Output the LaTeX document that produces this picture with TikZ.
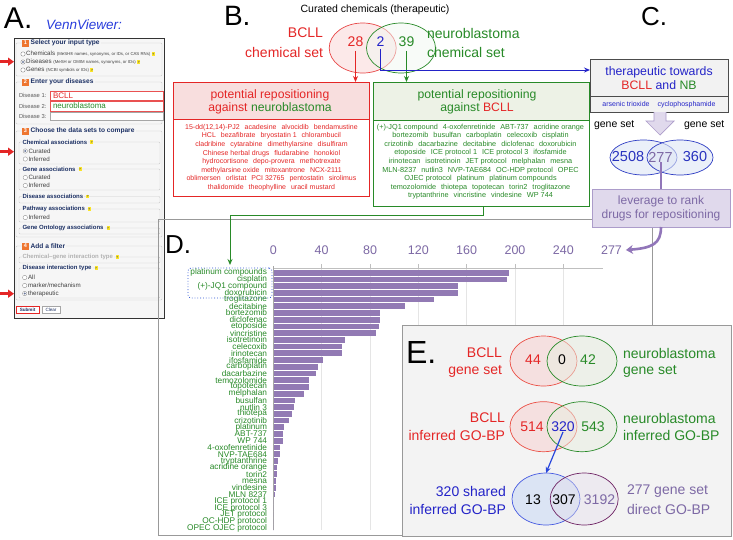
\documentclass[tikz,border=0pt]{standalone}
\usepackage{fontspec}
\setmainfont{Liberation Sans}
\usetikzlibrary{arrows.meta,calc,shapes.geometric}
\definecolor{cred}{RGB}{228,38,38}
\definecolor{cgreen}{RGB}{40,138,40}
\definecolor{cblue}{RGB}{35,35,200}
\definecolor{barc}{RGB}{146,122,180}
\definecolor{ptext}{RGB}{125,105,165}
\definecolor{navy}{RGB}{28,48,100}
\definecolor{orng}{RGB}{238,118,48}
\definecolor{formbg}{RGB}{246,246,246}
\definecolor{lav}{RGB}{224,217,236}
\definecolor{lavb}{RGB}{172,156,202}
\definecolor{hyel}{RGB}{250,228,40}
\definecolor{redhd}{RGB}{248,222,222}
\definecolor{grnhd}{RGB}{237,242,230}
\definecolor{cboxbg}{RGB}{242,242,242}
\definecolor{ebg}{RGB}{243,243,243}
\definecolor{arrp}{RGB}{145,118,185}
\definecolor{earr}{RGB}{40,70,220}
\definecolor{vvblue}{RGB}{40,60,220}
\definecolor{cvb}{RGB}{45,60,195}
\definecolor{cvf}{RGB}{222,230,246}
\definecolor{cnum}{RGB}{40,50,190}
\definecolor{evr}{RGB}{235,80,70}
\definecolor{evrf}{RGB}{247,212,212}
\definecolor{evgf}{RGB}{232,238,225}
\definecolor{evb}{RGB}{70,90,225}
\definecolor{evbf}{RGB}{210,222,245}
\definecolor{evp}{RGB}{110,35,100}
\definecolor{evpf}{RGB}{228,222,236}
\definecolor{dotb}{RGB}{40,80,210}
\newcommand{\fs}[1]{\fontsize{#1}{#1}\selectfont}
\newcommand{\fsb}[2]{\fontsize{#1}{#2}\selectfont}
\newcommand{\gp}{\hspace{5pt}}
\begin{document}
\begin{tikzpicture}[x=1pt,y=-1pt,
  every node/.style={inner sep=0pt,outer sep=0pt},
  biglet/.style={anchor=base west},
  fhead/.style={anchor=west,font=\fs{6.6}\bfseries,text=navy,fill=formbg,inner xsep=1.2pt},
  fsub/.style={anchor=west,font=\fs{6}\bfseries,text=navy,fill=formbg,inner xsep=1pt},
  fitem/.style={anchor=west,font=\fs{6.2},text=black!75},
  flab/.style={anchor=west,font=\fs{5.8},text=black!65},
  numbox/.style={fill=orng,text=white,font=\fs{5.5}\bfseries,minimum width=7pt,minimum height=7pt},
  helpic/.style={anchor=west,fill=hyel,text=black!70,font=\fs{3}\bfseries,minimum width=3pt,minimum height=3.6pt},
  fset/.style={draw=black!20,line width=0.4pt,rounded corners=1pt},
  radio/.style={draw=black!45,fill=white,line width=0.35pt},
  redarr/.style={draw=cred,line width=2.6pt,-{Triangle[length=6pt,width=8pt]}},
  vtxt/.style={font=\fs{14}},
  dlab/.style={anchor=east,font=\fs{8.3},text=cgreen},
  axl/.style={font=\fs{12.5},text=ptext},
  conn/.style={line width=1pt,-{Stealth[length=6pt,width=5pt]}},
]
\useasboundingbox (0,0) rectangle (733,539);
\fill[white] (0,0) rectangle (733,539);

%================ Panel A =================
\node[biglet,font=\fs{30}] (lA) at (4,28) {A.};
\node[anchor=base west,font=\fs{13.5}\itshape,text=vvblue] (vv) at (46,29) {VennViewer:};
\node[draw=black!80,line width=0.8pt,fill=formbg,anchor=north west,minimum width=150pt,minimum height=280pt] (form) at (14,38) {};
% fieldsets
\draw[fset] (16,43) rectangle (162,76);
\draw[fset] (16,82) rectangle (162,124);
\draw[fset] (16,131) rectangle (162,237);
\draw[fset] (19,142) rectangle (160,164);
\draw[fset] (19,169) rectangle (160,190);
\draw[fset] (19,196.5) rectangle (160,203);
\draw[fset] (19,209) rectangle (160,222);
\draw[fset] (19,228) rectangle (160,234);
\draw[fset] (16,246) rectangle (162,300);
\draw[fset] (19,257) rectangle (160,263);
\draw[fset] (19,268) rectangle (160,298);
% section 1
\node[numbox] (nb1) at (25.5,43) {1};
\node[fhead] (h1) at (29.5,43) {Select your input type};
\foreach \yy in {54,62,70} {\draw[radio] (23,\yy) circle (2.2);}
\fill[navy!65] (23,62) circle (1.1);
\node[fitem] (i1) at (26.2,54) {Chemicals {\fs{4.3}(MeSH® names, synonyms, or IDs, or CAS RNs)}};
\node[helpic] (q1) at ($(i1.east)+(1.5,0)$) {?};
\node[fitem] (i2) at (26.2,62) {Diseases {\fs{4.3}(MeSH or OMIM names, synonyms, or IDs)}};
\node[helpic] (q2) at ($(i2.east)+(1.5,0)$) {?};
\node[fitem] (i3) at (26.2,70) {Genes {\fs{4.3}(NCBI symbols or IDs)}};
\node[helpic] (q3) at ($(i3.east)+(1.5,0)$) {?};
% section 2
\node[numbox] (nb2) at (25.5,82) {2};
\node[fhead] (h2) at (29.5,82) {Enter your diseases};
\node[flab] (d1) at (19,95.5) {Disease 1:};
\node[flab] (d2) at (19,106) {Disease 2:};
\node[flab] (d3) at (19,116.5) {Disease 3:};
\node[draw=cred!80,fill=white,line width=0.6pt,anchor=north west,minimum width=113pt,minimum height=9.8pt] (in1) at (50,90.8) {};
\node[draw=cred!80,fill=white,line width=0.6pt,anchor=north west,minimum width=113pt,minimum height=9.8pt] (in2) at (50,101) {};
\node[draw=black!35,fill=white,line width=0.4pt,anchor=north west,minimum width=113pt,minimum height=8.5pt] (in3) at (50,112) {};
\node[anchor=west,font=\fs{8},text=cred] (t1) at (53,95.7) {BCLL};
\node[anchor=west,font=\fs{8},text=cgreen] (t2) at (53,106) {neuroblastoma};
% section 3
\node[numbox] (nb3) at (25.5,131) {3};
\node[fhead] (h3) at (29.5,131) {Choose the data sets to compare};
\node[fsub] (s1) at (21.5,142) {Chemical associations};
\node[helpic] at ($(s1.east)+(2,0)$) {?};
\node[fsub] (s2) at (21.5,169) {Gene associations};
\node[helpic] at ($(s2.east)+(2,0)$) {?};
\node[fsub] (s3) at (21.5,196.5) {Disease associations};
\node[helpic] at ($(s3.east)+(2,0)$) {?};
\node[fsub] (s4) at (21.5,209) {Pathway associations};
\node[helpic] at ($(s4.east)+(2,0)$) {?};
\node[fsub] (s5) at (21.5,228) {Gene Ontology associations};
\node[helpic] at ($(s5.east)+(2,0)$) {?};
\foreach \yy in {151,159,177.5,185.5,217.5} {\draw[radio] (25.3,\yy) circle (2.2);}
\fill[navy!65] (25.3,151) circle (1.1);
\node[fitem] (r1) at (28.5,151) {Curated};
\node[fitem] (r2) at (28.5,159) {Inferred};
\node[fitem] (r3) at (28.5,177.5) {Curated};
\node[fitem] (r4) at (28.5,185.5) {Inferred};
\node[fitem] (r5) at (28.5,217.5) {Inferred};
% section 4
\node[numbox] (nb4) at (25.5,246) {4};
\node[fhead] (h4) at (29.5,246) {Add a filter};
\node[fsub,text=black!30] (s6) at (21.5,257) {Chemical–gene interaction type};
\node[helpic] at ($(s6.east)+(2,0)$) {?};
\node[fsub] (s7) at (21.5,268) {Disease interaction type};
\node[helpic] at ($(s7.east)+(2,0)$) {?};
\foreach \yy in {277.5,285.5,293.5} {\draw[radio] (24.7,\yy) circle (2.2);}
\fill[navy!65] (24.7,293.5) circle (1.1);
\node[fitem] (r6) at (28,277.5) {All};
\node[fitem] (r7) at (28,285.5) {marker/mechanism};
\node[fitem] (r8) at (28,293.5) {therapeutic};
\node[draw=cred,line width=0.7pt,fill=white,font=\fs{4.6}\bfseries,text=navy,minimum width=23pt,minimum height=7.5pt] (sub) at (27.6,309.6) {Submit};
\node[draw=black!35,line width=0.4pt,fill=white,font=\fs{4.6},text=navy,minimum width=18pt,minimum height=7.5pt] (clr) at (51,309.6) {Clear};
% red arrows
\coordinate (ra1s) at (0,61.7); \coordinate (ra1e) at (14,61.7);
\coordinate (ra2s) at (0,151.7); \coordinate (ra2e) at (14,151.7);
\coordinate (ra3s) at (0,293.7); \coordinate (ra3e) at (14,293.7);
\draw[redarr] (ra1s) -- (ra1e);
\draw[redarr] (ra2s) -- (ra2e);
\draw[redarr] (ra3s) -- (ra3e);

%================ Panel D frame =================
\draw[black!40,line width=0.9pt] (158,219.5) rectangle (652,535);

%================ Panel B =================
\node[biglet,font=\fs{28}] (lB) at (224,25) {B.};
\node[font=\fs{10.5}] (cur) at (375,9.5) {Curated chemicals (therapeutic)};
\node[ellipse,draw=cred!85,fill=cred!14,fill opacity=0.7,line width=0.7pt,minimum width=67pt,minimum height=50pt] (bR) at (362.7,48) {};
\node[ellipse,draw=cgreen,fill=cgreen!6,fill opacity=0.5,line width=0.7pt,minimum width=69pt,minimum height=50pt] (bG) at (401,48) {};
\node[vtxt,text=cred] (n28) at (355.5,42) {28};
\node[vtxt,text=cblue] (n2) at (380.5,42) {2};
\node[vtxt,text=cgreen] (n39) at (406.5,42) {39};
\node[vtxt,text=cred,anchor=east] (bl1) at (323,33) {BCLL};
\node[vtxt,text=cred,anchor=east] (bl2) at (323,52) {chemical set};
\node[vtxt,text=cgreen,anchor=west] (bn1) at (427,33) {neuroblastoma};
\node[vtxt,text=cgreen,anchor=west] (bn2) at (427,52) {chemical set};
% red box
\node[draw=cred,fill=redhd,line width=0.8pt,anchor=north west,minimum width=196pt,minimum height=37pt] (rh) at (173,82) {};
\node[font=\fsb{12.2}{13.5},text=cred,align=center] (rht) at (270,101.8) {potential repositioning\\against {\color{cgreen}neuroblastoma}};
\node[draw=cred,fill=white,line width=0.8pt,anchor=north west,minimum width=196pt,minimum height=77pt] (rl) at (173,119) {};
\node[font=\fsb{7}{8.62},text=cred,align=center] (rlt) at (271.5,157.5) {15-dd(12,14)-PJ2\gp acadesine\gp alvocidib\gp bendamustine\\HCL\gp bezafibrate\gp bryostatin 1\gp chlorambucil\\cladribine\gp cytarabine\gp dimethylarsine\gp disulfiram\\Chinese herbal drugs\gp fludarabine\gp honokiol\\hydrocortisone\gp depo-provera\gp methotrexate\\methylarsine oxide\gp mitoxantrone\gp NCX-2111\\oblimersen\gp orlistat\gp PCI 32765\gp pentostatin\gp sirolimus\\thalidomide\gp theophylline\gp uracil mustard};
% green box
\node[draw=cgreen,fill=grnhd,line width=0.8pt,anchor=north west,minimum width=216pt,minimum height=38pt] (gh) at (373,82) {};
\node[font=\fsb{12.2}{13.5},text=cgreen,align=center] (ght) at (477,101.8) {potential repositioning\\against {\color{cred}BCLL}};
\node[draw=cgreen,fill=white,line width=0.8pt,anchor=north west,minimum width=216pt,minimum height=86.7pt] (gl) at (373,120) {};
\node[font=\fsb{7.3}{8.6},text=cgreen,align=center] (glt) at (480.5,161.7) {(+)-JQ1 compound\gp 4-oxofenretinide\gp ABT-737\gp acridine orange\\bortezomib\gp busulfan\gp carboplatin\gp celecoxib\gp cisplatin\\crizotinib\gp dacarbazine\gp decitabine\gp diclofenac\gp doxorubicin\\etoposide\gp ICE protocol 1\gp ICE protocol 3\gp ifosfamide\\irinotecan\gp isotretinoin\gp JET protocol\gp melphalan\gp mesna\\MLN-8237\gp nutlin3\gp NVP-TAE684\gp OC-HDP protocol\gp OPEC\\OJEC protocol\gp platinum\gp platinum compounds\\temozolomide\gp thiotepa\gp topotecan\gp torin2\gp troglitazone\\tryptanthrine\gp vincristine\gp vindesine\gp WP 744};
% B arrows
\draw[conn,cred,shorten <=4pt] (n28.south) -- (n28.south |- rh.north);
\draw[conn,cgreen,shorten <=4pt] (n39.south) -- (n39.south |- gh.north);

%================ Panel C =================
\node[biglet,font=\fs{26}] (lC) at (641,25) {C.};
\node[draw=black!70,fill=cboxbg,line width=0.8pt,anchor=north west,minimum width=138pt,minimum height=53pt] (cbox) at (590,59) {};
\draw[black!70,line width=0.6pt] (590,96) -- (728,96);
\node[font=\fsb{12.3}{14},text=cblue,align=center] (cht) at (659,78) {therapeutic towards\\{\color{cred}BCLL} and {\color{cgreen}NB}};
\node[font=\fs{7},text=cblue] (clt) at (659,104.5) {arsenic trioxide\hspace{8pt}cyclophosphamide};
\coordinate (cin) at (590,70);
\draw[conn,cblue,shorten <=2pt] (n2.south) -- (n2.south |- cin) -- (cin);
\filldraw[fill=lav,draw=lavb,line width=0.7pt] (654,112) -- (654,121) -- (646,121) -- (660,135) -- (674,121) -- (666,121) -- (666,112);
\node[font=\fs{10.5},anchor=west] (gs1) at (594,125) {gene set};
\node[font=\fs{10.5},anchor=west] (gs2) at (684,125) {gene set};
\node[ellipse,draw=cvb,fill=cvf,fill opacity=0.6,line width=0.7pt,minimum width=67pt,minimum height=35pt] (cL) at (643.5,157.5) {};
\node[ellipse,draw=cvb,fill=cvf,fill opacity=0.6,line width=0.7pt,minimum width=66pt,minimum height=35pt] (cR) at (680,157.5) {};
\node[font=\fs{14.5},text=cnum] (c2508) at (628,157) {2508};
\node[font=\fs{14.5},text=ptext] (c277) at (660.5,157) {277};
\node[font=\fs{14.5},text=cnum] (c360) at (695,157) {360};
\node[draw=lavb,fill=lav,line width=0.8pt,anchor=north west,minimum width=138pt,minimum height=38pt] (lev) at (592,189) {};
\node[font=\fsb{12}{14},text=ptext,align=center] (levt) at (661,208) {leverage to rank\\drugs for repositioning};
\draw[arrp,line width=2pt] (c277.south -| 661,0) -- (lev.north -| 661,0);

%================ Panel D =================
\node[biglet,font=\fs{26}] (lD) at (165,253) {D.};
\foreach \v in {40,80,120,160,200,240} {
  \draw[black!10,line width=0.5pt] ({273.3+\v*1.2083},268) -- ({273.3+\v*1.2083},530);
  \draw[black!25,line width=0.5pt] ({273.3+\v*1.2083},264) -- ({273.3+\v*1.2083},268);
}
\draw[black!25,line width=0.8pt] (273.3,268) -- (603,268);
\draw[black!35,line width=0.6pt] (273.3,266) -- (273.3,530);
\node[axl] (ax0) at (273.3,250) {0};
\node[axl] (ax1) at (321.6,250) {40};
\node[axl] (ax2) at (370,250) {80};
\node[axl] (ax3) at (418.3,250) {120};
\node[axl] (ax4) at (466.6,250) {160};
\node[axl] (ax5) at (515,250) {200};
\node[axl] (ax6) at (563.3,250) {240};
\node[axl] (ax7) at (611.5,250) {277};
\foreach \lab/\val [count=\i] in {platinum compounds/195,cisplatin/193,{(+)-JQ1 compound}/153,doxorubicin/153,troglitazone/133,decitabine/109,bortezomib/88,diclofenac/88,etoposide/87,vincristine/85,isotretinoin/59,celecoxib/57,irinotecan/57,ifosfamide/41,carboplatin/37,dacarbazine/35,temozolomide/29,topotecan/29,melphalan/25,busulfan/18,nutlin 3/17,thiotepa/15,crizotinib/13,platinum/9,ABT-737/8,WP 744/8,4-oxofenretinide/5,NVP-TAE684/5,tryptanthrine/4,acridine orange/3,torin2/3,mesna/2,vindesine/2,MLN 8237/1,ICE protocol 1/0,ICE protocol 3/0,JET protocol/0,OC-HDP protocol/0,OPEC OJEC protocol/0} {
  \pgfmathsetmacro{\yy}{272.7+(\i-1)*6.72}
  \node[dlab] (dl\i) at (267,\yy) {\lab};
  \fill[barc] (273.6,\yy-2.85) rectangle ++({\val*1.2083},5.7);
}
\node[draw=dotb,dotted,line width=0.8pt,rounded corners=3pt,anchor=north west,minimum width=84pt,minimum height=30pt] (dotbox) at (188,268) {};
\coordinate (gbend) at (483,215);
\draw[conn,cgreen,shorten >=3pt] (gl.south -| gbend) -- (gbend) -| (dotbox.north);
\draw[arrp,line width=2.6pt,-{Stealth[length=7pt,width=9pt]}] (lev.south -| 661,0) .. controls (661,244) and (652,248) .. ($(ax7.east)+(4,0)$);

%================ Panel E =================
\node[draw=black!40,fill=ebg,line width=1pt,anchor=north west,minimum width=329pt,minimum height=211pt] (ebox) at (402,325) {};
\node[biglet,font=\fs{32}] (lE) at (406,363) {E.};
% venn 1
\node[ellipse,draw=evr,fill=evrf,fill opacity=0.6,line width=0.7pt,minimum width=67pt,minimum height=50pt] (e1r) at (543.5,361) {};
\node[ellipse,draw=cgreen,fill=evgf,fill opacity=0.5,line width=0.7pt,minimum width=70pt,minimum height=50pt] (e1g) at (582,361) {};
\node[vtxt,text=cred] (e44) at (533,360) {44};
\node[vtxt] (e0) at (562,360) {0};
\node[vtxt,text=cgreen] (e42) at (588,360) {42};
\node[vtxt,text=cred,anchor=east] (e1a) at (502,353) {BCLL};
\node[vtxt,text=cred,anchor=east] (e1b) at (502,371) {gene set};
\node[vtxt,text=cgreen,anchor=west] (e1c) at (623,353) {neuroblastoma};
\node[vtxt,text=cgreen,anchor=west] (e1d) at (623,371) {gene set};
% venn 2
\node[ellipse,draw=evr,fill=evrf,fill opacity=0.6,line width=0.7pt,minimum width=67pt,minimum height=50pt] (e2r) at (543.5,426.7) {};
\node[ellipse,draw=cgreen,fill=evgf,fill opacity=0.5,line width=0.7pt,minimum width=70pt,minimum height=50pt] (e2g) at (582,426.7) {};
\node[vtxt,text=cred] (e514) at (532,427) {514};
\node[vtxt,text=cblue] (e320) at (563,427) {320};
\node[vtxt,text=cgreen] (e543) at (593,427) {543};
\node[vtxt,text=cred,anchor=east] (e2a) at (505,418) {BCLL};
\node[vtxt,text=cred,anchor=east] (e2b) at (505,435) {inferred GO-BP};
\node[vtxt,text=cgreen,anchor=west] (e2c) at (623,418) {neuroblastoma};
\node[vtxt,text=cgreen,anchor=west] (e2d) at (623,435) {inferred GO-BP};
% venn 3
\node[ellipse,draw=evb,fill=evbf,fill opacity=0.7,line width=0.7pt,minimum width=68pt,minimum height=52pt] (e3b) at (546,499) {};
\node[ellipse,draw=evp,fill=evpf,fill opacity=0.4,line width=0.7pt,minimum width=68pt,minimum height=52pt] (e3p) at (584.2,499) {};
\node[vtxt] (e13) at (533,500) {13};
\node[vtxt] (e307) at (564,500) {307};
\node[vtxt,text=ptext] (e3192) at (599.5,500) {3192};
\node[vtxt,text=cblue,anchor=east] (e3a) at (506,491) {320 shared};
\node[vtxt,text=cblue,anchor=east] (e3b2) at (506,509) {inferred GO-BP};
\node[vtxt,text=ptext,anchor=west] (e3c) at (627,491) {277 gene set};
\node[vtxt,text=ptext,anchor=west] (e3d) at (627,509) {direct GO-BP};
\draw[conn,earr,line width=1.2pt] (e320.south) -- (e3b.north);
\end{tikzpicture}
\end{document}
